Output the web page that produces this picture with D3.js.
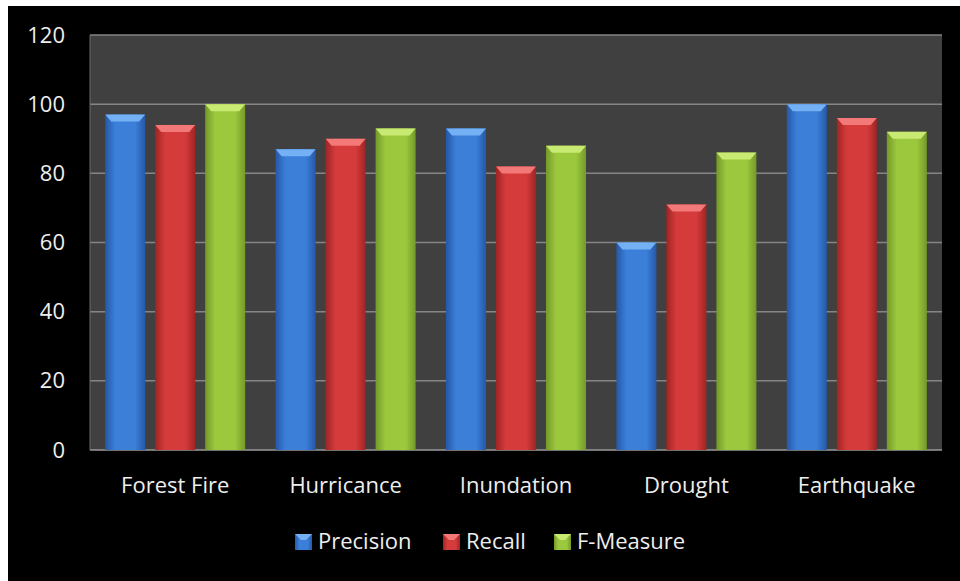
<html lang="en"><head>
<meta charset="utf-8">
<script src="https://d3js.org/d3.v7.min.js"></script>
<style>
body { margin: 0; background: #fff; }
svg text { font-family: "Open Sans", "Noto Sans", sans-serif; fill: #eeeeee; }
</style>
</head><body>
<div id="chart"></div>
<script>
const categories = ["Forest Fire", "Hurricance", "Inundation", "Drought", "Earthquake"];
const seriesNames = ["Precision", "Recall", "F-Measure"];
const precision = [97, 87, 93, 60, 100];
const recall = [94, 90, 82, 71, 96];
const fMeasure = [100, 93, 88, 86, 92];
const yTicks = [0, 20, 40, 60, 80, 100, 120];

const seriesValues = [precision, recall, fMeasure];
const colors = [
  { base: "#3b7fd8", light: "#74b0f4", dark: "#2658a8" },
  { base: "#d53b3b", light: "#f37878", dark: "#a02424" },
  { base: "#9cc83e", light: "#c8ea72", dark: "#739a28" }
];

const width = 960, height = 581;
const plot = { left: 90, right: 942, top: 35, bottom: 450 };

const svg = d3.select("#chart").append("svg")
  .attr("width", width).attr("height", height);

const defs = svg.append("defs");
colors.forEach((c, i) => {
  const g = defs.append("linearGradient").attr("id", "grad" + i)
    .attr("x1", "0%").attr("x2", "100%").attr("y1", "0%").attr("y2", "0%");
  g.append("stop").attr("offset", "0%").attr("stop-color", c.dark);
  g.append("stop").attr("offset", "25%").attr("stop-color", c.base);
  g.append("stop").attr("offset", "75%").attr("stop-color", c.base);
  g.append("stop").attr("offset", "100%").attr("stop-color", c.dark);
});

// black card
svg.append("rect").attr("x", 8).attr("y", 6).attr("width", width - 8).attr("height", height - 6)
  .attr("fill", "#000");

const x0 = d3.scaleBand().domain(categories).range([plot.left, plot.right]);
const x1 = d3.scaleBand().domain(seriesNames).range([15.2, 155.2]).paddingInner(0.2).paddingOuter(0);
const y = d3.scaleLinear().domain([0, 120]).range([plot.bottom, plot.top]);

svg.append("rect")
  .attr("x", plot.left).attr("y", plot.top)
  .attr("width", plot.right - plot.left).attr("height", plot.bottom - plot.top)
  .attr("fill", "#404040");

// grid
svg.append("g").selectAll("line").data(yTicks).join("line")
  .attr("x1", plot.left).attr("x2", plot.right)
  .attr("y1", d => y(d)).attr("y2", d => y(d))
  .attr("stroke", d => d === 0 ? "#9a9a9a" : "#858585").attr("stroke-width", 1.5);
svg.append("line").attr("x1", plot.left).attr("x2", plot.left)
  .attr("y1", plot.top).attr("y2", plot.bottom).attr("stroke", "#6a6a6a");

// y axis
const yAxis = svg.append("g")
  .attr("transform", `translate(${plot.left - 25},0)`)
  .call(d3.axisLeft(y).tickValues(yTicks).tickSize(0).tickPadding(0));
yAxis.select(".domain").remove();
yAxis.selectAll("text").attr("font-size", 22).attr("fill", "#eeeeee")
  .style("font-family", "'Open Sans', sans-serif");

// bars
const groups = svg.append("g").selectAll("g").data(categories).join("g")
  .attr("transform", d => `translate(${x0(d)},0)`);

groups.each(function(cat, ci) {
  const g = d3.select(this);
  seriesNames.forEach((s, si) => {
    const v = seriesValues[si][ci];
    const bx = x1(s), bw = x1.bandwidth();
    g.append("rect")
      .attr("x", bx).attr("y", y(v))
      .attr("width", bw).attr("height", y(0) - y(v))
      .attr("fill", `url(#grad${si})`);
    // top bevel
    g.append("path")
      .attr("d", `M${bx},${y(v)} L${bx + bw},${y(v)} L${bx + bw - 6},${y(v) + 7} L${bx + 6},${y(v) + 7} Z`)
      .attr("fill", colors[si].light);
  });
});

// category labels
svg.append("g").selectAll("text").data(categories).join("text")
  .attr("x", d => x0(d) + x0.bandwidth() / 2)
  .attr("y", 493)
  .attr("text-anchor", "middle")
  .attr("font-size", 22)
  .text(d => d);

// legend
const legendX = [295, 443, 554];
const legend = svg.append("g").selectAll("g").data(seriesNames).join("g")
  .attr("transform", (d, i) => `translate(${legendX[i]},534)`);
legend.append("rect").attr("width", 17).attr("height", 16)
  .attr("fill", (d, i) => `url(#grad${i})`);
legend.append("path").attr("d", "M0,0 L17,0 L11,6 L6,6 Z")
  .attr("fill", (d, i) => colors[i].light);
legend.append("text").attr("x", 23).attr("y", 15).attr("font-size", 22).text(d => d);
</script>
</body></html>
